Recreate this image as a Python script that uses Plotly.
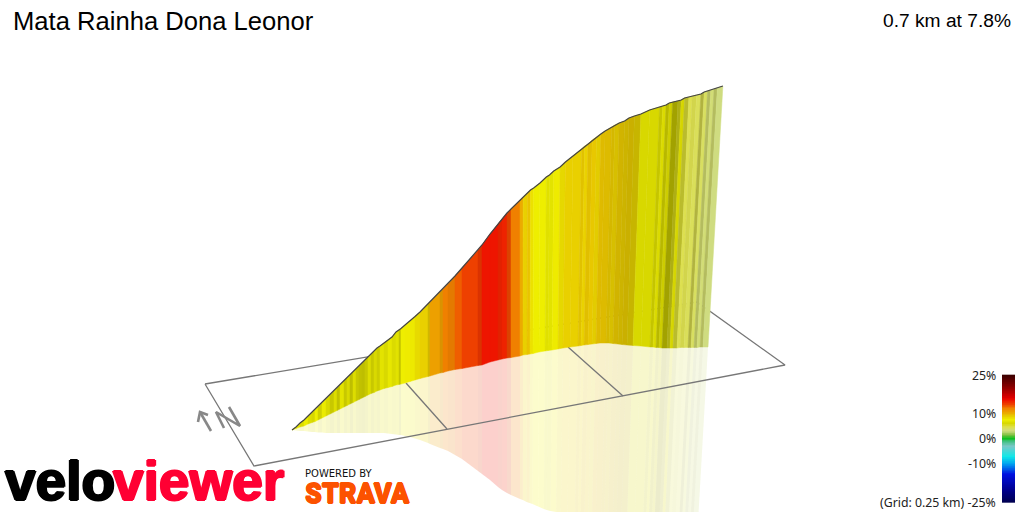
import numpy as np
import plotly.graph_objects as go

TITLE = "Mata Rainha Dona Leonor"
SUMMARY = "0.7 km at 7.8%"
SCALE_LABELS = ["25%", "10%", "0%", "-10%", "(Grid: 0.25 km) -25%"]
SCALE_VALUES = [25, 10, 0, -10, -25]

# gradient colour stops (percent, hex)
stop_pct = [-25, -20, -14, -10, -7, -3, -1, 0, 1.5, 3, 4.5, 6, 7.5, 9, 10.5, 12, 13.5, 15, 16, 20, 25]
stop_hex = ["#000050", "#000090", "#0010e0", "#00a0f0", "#10e8e8", "#78c8c8", "#40c080", "#10c020",
            "#80c040", "#cfdc80", "#dde050", "#d8d800", "#eeee00", "#e8c800", "#eda000", "#f08000",
            "#ee4000", "#ee1500", "#e00000", "#900000", "#3a0000"]

# wall edge positions
base_x = [292,296,300,304,308,312,315,318,322,326,330,334,337,340,344,347,350,353,356,359,362,365,368,371,374,377,380,384,388,392,396,399,401,405,410,415,420,
          428,430,440,443,448,455,462,470,478,482,490,498,502,507,511,520,523,527,530,533,539,
          545,548,552,558,563,570,578,581,584,588,592,596,600,606,609,613,618,622,627,633,641,650,653,656,659,662,667,670,673,677,680,684,688,691,694,697,700,703,708]
top_y = [430,427,423,420,416,412,410,407,403,399,395,391,388,385,381,378,375,372,369,366,363,360,357,354,351,348,346,343,340,337,332,330,328.5,325,321,316.5,312,
         304,302,292,289,284,276,268,259,250,245,234,224,219,213,209,200,197,193,190,188,183,
         177,175,171,167,162,156,149,146,144,140,137,134,131,127,125,123,121,118,116,114,110,107,106,105,103,102,101,100,98,97,96,95,94,92,91,90,89,88,86]
base_y = [430,428.5,427,426,424,422.5,421.5,420,418,416,414,412,410.5,409,407,405.5,404,402.5,401,399.5,398,396.5,395,393.5,392.5,391,390,388.5,387.5,386.5,385,384.5,384,383,381.5,380,378.5,
          376.5,376,373,372.5,371,369.5,368.5,367,365.5,365,362,360,359,358,357.5,356,355,354.5,354,353.5,352,
          351,350.5,350,349,348,347,346,345.5,345,344.5,344,343.5,343,343,343,343.5,344,344.5,345,345.5,346,347,347,347.5,347.5,348,348,348,348,348,347.5,347.5,347.5,347.5,347.5,347.5,347,347,347]
mirror_y = [430,430.5,431,431,431.5,432,432,432.5,432.5,433,433,433,433,433,433,433,433,433,433,433,433,433,433,433,433,433,433,433,433.5,434,434.5,435,435,436,437,438.5,440,
            443,444,448,449,451,455,459,465,471,474,480,487,490,493,495,499,500,502,503,504,506.5,
            509,510,511,512,514,516.5,519,520,521,522,523,525,526,527,528,530,531,532,534,535,537.5,540,541,542,543,544,545,546,547,548,549,550,551,552,553,554,555,556,557]

# gradient (%) and lighting of each strip between two edges
grade = [7.5,7.5,7,7.5,7,7.2,7.5,7,7.3,7,6.8,7,6.8,7.2,6.8,7,6.8,7,6.8,6.9,6.7,6.8,7,6.8,7,6.8,7.2,6.5,7,6.5,7,7,7.5,7.6,7.7,8.1,8.7,
         8.9,10.5,10.5,12,12,12.8,13.5,13.5,13.8,15,15,14.5,14.5,13.3,12,10.1,8.7,9.2,8,7.5,7.5,
         7.5,7.2,7.6,8.2,8.7,8.7,9,8.6,9.1,9,8.6,9.2,9.1,9,8.7,9,8.8,8.9,8.5,6,6,6.2,7,6,6.5,6,5.5,6.6,5,4.5,4.5,4.2,4.5,4,3.5,3.3,3.5,3]
light = [1,.97,.95,1,.96,.92,1,.9,1,.94,.88,.96,.85,.97,.88,.94,.84,.96,.88,.84,.84,.88,.96,.88,.94,.9,.97,.97,1,.98,.98,.85,1,1,1,.98,1,
         .9,1,.92,1,.95,1,1,1,.92,1,1,.95,1,.92,1,1,1,1,1,1,1,
         .94,.97,1,.98,1,1,.97,1,.97,1,.97,.96,.95,.92,.92,.9,.88,.87,.85,1,1,.9,.95,.85,.92,.75,.8,.95,.85,1,.95,1,.8,1,.85,1,.85,1]

# north marker and ground grid
grid_x = [205, 254, 785, 697, 205, None, 406, 447, None, 568, 623]
grid_y = [384, 466, 365, 302, 384, None, 383, 429, None, 347, 396]
arrow_x = [211, 200, None, 198, 200, 208]
arrow_y = [431, 412, None, 422, 412, 415]
north_x = [224, 216, 240, 229]
north_y = [428, 412, 426, 407]


def rgb_at(pct):
    rgb = [int(h[i:i + 2], 16) for h in stop_hex for i in (1, 3, 5)]
    rgb = np.array(rgb).reshape(-1, 3)
    return [float(np.interp(pct, stop_pct, rgb[:, k])) for k in range(3)]


def css(pct, shade=1.0, alpha=1.0):
    r, g, b = [round(v * shade) for v in rgb_at(pct)]
    return f"rgba({r},{g},{b},{alpha})"


# perspective lean of the strip edges
lean = [max(0.0, (b - 520) / 3300) for b in base_x]
top_x = [b + l * (y - t) for b, l, y, t in zip(base_x, lean, base_y, top_y)]
mirror_x = [b - l * (m - y) for b, l, y, m in zip(base_x, lean, base_y, mirror_y)]

fig = go.Figure()


def strip(xs, ys, color, line_w):
    fig.add_trace(go.Scatter(x=xs, y=ys, mode="lines", fill="toself", fillcolor=color,
                             line=dict(color=color, width=line_w), hoverinfo="skip", showlegend=False))


for i in range(len(grade)):
    strip([base_x[i], base_x[i + 1], mirror_x[i + 1], mirror_x[i], base_x[i]],
          [base_y[i], base_y[i + 1], mirror_y[i + 1], mirror_y[i], base_y[i]],
          css(grade[i], light[i], 0.2), 0)

fig.add_trace(go.Scatter(x=grid_x, y=grid_y, mode="lines", line=dict(color="#777777", width=1.3),
                         hoverinfo="skip", showlegend=False))
for xs, ys in ((arrow_x, arrow_y), (north_x, north_y)):
    fig.add_trace(go.Scatter(x=xs, y=ys, mode="lines", line=dict(color="#888888", width=2.6),
                             hoverinfo="skip", showlegend=False))

for i in range(len(grade)):
    c = css(grade[i], light[i])
    strip([base_x[i], base_x[i + 1], top_x[i + 1], top_x[i], base_x[i]],
          [base_y[i], base_y[i + 1], top_y[i + 1], top_y[i], base_y[i]], c, 0.5)

fig.add_trace(go.Scatter(x=top_x, y=top_y, mode="lines", line=dict(color="#444444", width=1.2),
                         hoverinfo="skip", showlegend=False))

# gradient scale bar
zero_y, px_per_pct = 438.5, 2.54
bar_z = np.linspace(25, -25, 201)
bar_y = zero_y - bar_z * px_per_pct
lo, hi = min(stop_pct), max(stop_pct)
fig.add_trace(go.Heatmap(x=[1002, 1015], y=bar_y, z=[[v] for v in bar_z], zmin=lo, zmax=hi,
                         colorscale=[[(p - lo) / (hi - lo), h] for p, h in zip(stop_pct, stop_hex)],
                         showscale=False, hoverinfo="skip"))


def label(x, y, text, size, color="#000000", family="Liberation Sans", anchor="left", weight=None, shadow=None):
    font = dict(size=size, color=color, family=family)
    if weight:
        font["weight"] = weight
    if shadow:
        font["shadow"] = shadow
    fig.add_annotation(x=x, y=y, text=text, showarrow=False, xanchor=anchor, yanchor="middle",
                       font=font, borderpad=0, borderwidth=0)


def heavy(color, r=1.2):
    return ",".join(f"{dx}px {dy}px 0 {color}" for dx, dy in ((r, 0), (-r, 0), (0, r), (0, -r)))


label(13, 21, TITLE, 25.6)
label(1011, 20, SUMMARY, 19.2, anchor="right")
for val, txt in zip(SCALE_VALUES, SCALE_LABELS):
    label(996, zero_y - val * px_per_pct, txt, 12.3, color="#222222", family="Noto Sans", anchor="right")

label(5, 481, "velo", 55, weight=700, shadow=heavy("#000000"))
label(113, 481, "viewer", 55, color="#ff0033", weight=700, shadow=heavy("#ff0033"))
label(305, 473, "POWERED BY", 10, color="#111111", family="DejaVu Sans")
label(305, 494, "STRAVA", 27, color="#fc5200", family="Roboto", weight=900, shadow=heavy("#fc5200", 0.6))

fig.update_layout(width=1024, height=512, margin=dict(l=0, r=0, t=0, b=0), paper_bgcolor="#ffffff",
                  plot_bgcolor="#ffffff", showlegend=False,
                  xaxis=dict(range=[0, 1024], visible=False, fixedrange=True),
                  yaxis=dict(range=[512, 0], visible=False, fixedrange=True))
fig.write_html("out.html", config={"displayModeBar": False},
               post_script="document.body.style.margin='0';document.body.style.overflow='hidden';")
